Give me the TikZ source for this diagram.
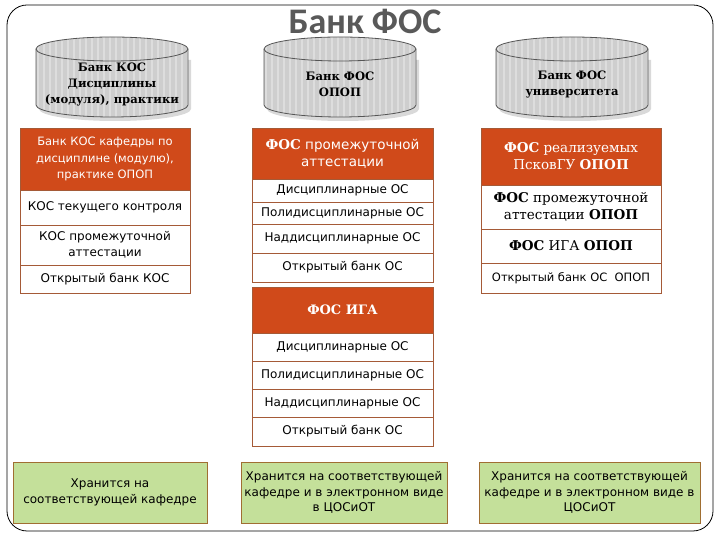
\documentclass[tikz,border=0pt]{standalone}
\usepackage{fontspec}
\setmainfont{DejaVu Serif}
\setsansfont{DejaVu Sans}
\newfontfamily\titlefont{Carlito}
\usetikzlibrary{positioning}
\definecolor{hdrfill}{RGB}{208,74,26}
\definecolor{cellline}{RGB}{165,90,55}
\definecolor{storefill}{RGB}{196,224,154}
\definecolor{storeline}{RGB}{160,110,50}
\definecolor{titlegray}{RGB}{89,89,89}
\definecolor{cylfill}{RGB}{206,206,206}
\definecolor{cylline}{RGB}{85,85,85}
\newcommand{\bankcyl}[3]{%
  \pgfmathsetmacro\xl{#1-76}%
  \pgfmathsetmacro\xr{#1+76}%
  % soft shadow under the drum
  \fill[black!15] (\xl+3,480) -- (\xl+3,431) arc (180:360:76 and 12) -- (\xr+3,480) -- cycle;
  % striped body
  \begin{scope}
    \clip (\xl,491) -- (\xl,435) arc (180:360:76 and 12) -- (\xr,491) arc (0:180:76 and 12) -- cycle;
    \fill[cylfill] (\xl,420) rectangle (\xr,505);
    \foreach \s in {0,6,...,150}{
      \draw[white!30!cylfill, line width=1.3pt] (\xl+\s+2,420) -- (\xl+\s+2,505);
    }
  \end{scope}
  % outline and front rim of the lid
  \draw[cylline, line width=0.8pt] (\xl,491) -- (\xl,435) arc (180:360:76 and 12)
        -- (\xr,491) arc (0:180:76 and 12) -- cycle;
  \draw[cylline, line width=0.8pt] (\xl,491) arc (180:360:76 and 12);
  \node[cyltext] (#2) at (#1,456) {#3};
}
\tikzset{
  hdr/.style={draw=cellline, fill=hdrfill, text=white, align=center, inner sep=1pt,
              outer sep=0pt, line width=0.6pt},
  cell/.style={draw=cellline, fill=white, align=center, inner sep=1pt, outer sep=0pt,
               line width=0.6pt, font=\sffamily\fontsize{12}{15.5}\selectfont},
  sercell/.style={cell, font=\rmfamily\fontsize{13.5}{17}\selectfont},
  store/.style={draw=storeline, fill=storefill, align=center, inner sep=1pt,
                line width=0.8pt, minimum height=61pt, font=\sffamily\fontsize{12}{15.5}\selectfont},
  cyltext/.style={align=center, font=\rmfamily\bfseries\fontsize{11.6}{16}\selectfont},
}

\begin{document}
\begin{tikzpicture}[x=1pt, y=1pt]
  \useasboundingbox (0,0) rectangle (720,540);

  % ---------- frame and title ----------
  \draw[line width=0.8pt, rounded corners=20pt] (7,535) rectangle (713,9);
  \node[font=\titlefont\bfseries\fontsize{36}{36}\selectfont, text=titlegray] (title) at (365,519) {Банк ФОС};

  % ---------- the three banks ----------
  \bankcyl{112}{cylkos}{Банк КОС\\Дисциплины\\(модуля), практики}
  \bankcyl{340}{cylopop}{Банк ФОС\\ОПОП}
  \bankcyl{572}{cyluni}{Банк ФОС\\университета}

  % ---------- left table: department ----------
  \node[hdr, minimum width=170pt, minimum height=62pt, font=\sffamily\fontsize{11.5}{16.5}\selectfont]
        (khdr) at (105,381) {Банк КОС кафедры по\\дисциплине (модулю),\\практике ОПОП};
  \node[cell, minimum width=170pt, minimum height=35pt, below=0pt of khdr] (krow1) {КОС текущего контроля};
  \node[cell, minimum width=170pt, minimum height=40pt, below=0pt of krow1] (krow2) {КОС промежуточной\\аттестации};
  \node[cell, minimum width=170pt, minimum height=28pt, below=0pt of krow2] (krow3) {Открытый банк КОС};

  % ---------- middle table: intermediate assessment ----------
  \node[hdr, minimum width=181pt, minimum height=51pt, font=\sffamily\fontsize{13.5}{17}\selectfont]
        (phdr) at (342.5,386.5) {{\rmfamily\bfseries ФОС} промежуточной\\аттестации};
  \node[cell, minimum width=181pt, minimum height=23pt, below=0pt of phdr] (prow1) {Дисциплинарные ОС};
  \node[cell, minimum width=181pt, minimum height=22pt, below=0pt of prow1] (prow2) {Полидисциплинарные ОС};
  \node[cell, minimum width=181pt, minimum height=29pt, below=0pt of prow2] (prow3) {Наддисциплинарные ОС};
  \node[cell, minimum width=181pt, minimum height=29pt, below=0pt of prow3] (prow4) {Открытый банк ОС};

  % ---------- middle table: final attestation ----------
  \node[hdr, minimum width=181pt, minimum height=46pt, font=\rmfamily\bfseries\fontsize{13}{17}\selectfont]
        (ihdr) at (342.5,230) {ФОС ИГА};
  \node[cell, minimum width=181pt, minimum height=28pt, below=0pt of ihdr] (irow1) {Дисциплинарные ОС};
  \node[cell, minimum width=181pt, minimum height=28pt, below=0pt of irow1] (irow2) {Полидисциплинарные ОС};
  \node[cell, minimum width=181pt, minimum height=28pt, below=0pt of irow2] (irow3) {Наддисциплинарные ОС};
  \node[cell, minimum width=181pt, minimum height=29pt, below=0pt of irow3] (irow4) {Открытый банк ОС};

  % ---------- right table: university ----------
  \node[hdr, minimum width=180pt, minimum height=57pt, font=\rmfamily\fontsize{13.5}{17}\selectfont]
        (uhdr) at (571,383.5) {{\bfseries ФОС} реализуемых\\ПсковГУ {\bfseries ОПОП}};
  \node[sercell, minimum width=180pt, minimum height=44pt, below=0pt of uhdr] (urow1)
        {{\bfseries ФОС} промежуточной\\аттестации {\bfseries ОПОП}};
  \node[sercell, minimum width=180pt, minimum height=34pt, below=0pt of urow1] (urow2)
        {{\bfseries ФОС} ИГА {\bfseries ОПОП}};
  \node[cell, minimum width=180pt, minimum height=30pt, below=0pt of urow2,
        font=\sffamily\fontsize{11.5}{15}\selectfont] (urow3) {Открытый банк ОС~~ОПОП};

  % ---------- where it is kept ----------
  \node[store, minimum width=194pt] (keepkaf) at (110,47.5) {Хранится на\\соответствующей кафедре};
  \node[store, minimum width=206pt] (keepopop) at (344,47.5)
        {Хранится на соответствующей\\кафедре и в электронном виде\\в ЦОСиОТ};
  \node[store, minimum width=221pt] (keepuni) at (589.5,47.5)
        {Хранится на соответствующей\\кафедре и в электронном виде в\\ЦОСиОТ};

\end{tikzpicture}
\end{document}
